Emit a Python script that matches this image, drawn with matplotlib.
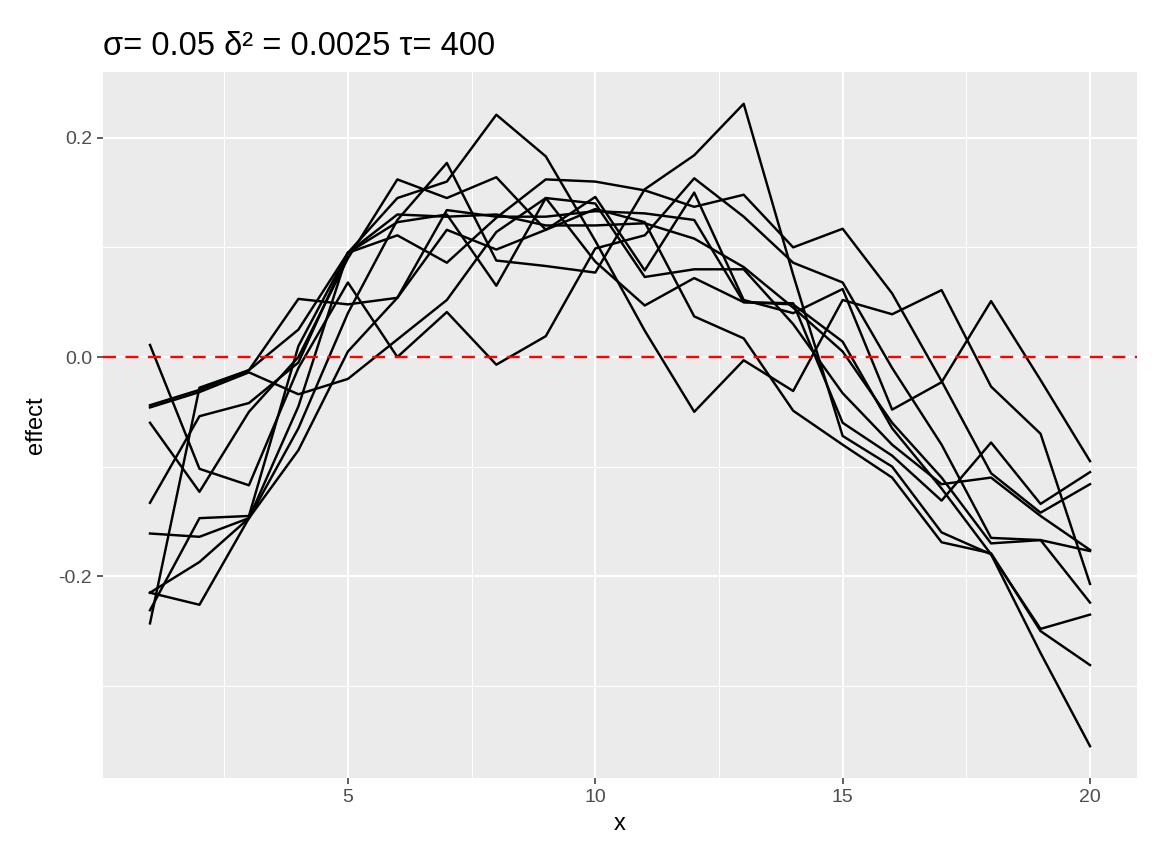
import numpy as np
import matplotlib
matplotlib.use("Agg")
import matplotlib.pyplot as plt

plt.rcParams['font.family'] = ['Liberation Sans', 'DejaVu Sans']

x = np.arange(1, 21)

low_line = [0.011, -0.102, -0.117, -0.010, 0.068, 0.000, 0.041, -0.007, 0.019, 0.099,
            0.111, 0.163, 0.128, 0.086, 0.068, -0.010, -0.080, -0.165, -0.167, -0.177]
peak_line = [-0.215, -0.187, -0.147, -0.065, 0.040, 0.125, 0.177, 0.088, 0.083, 0.077,
             0.153, 0.184, 0.231, 0.075, -0.072, -0.100, -0.160, -0.180, -0.270, -0.355]
early_peak = [-0.133, -0.054, -0.042, -0.005, 0.095, 0.145, 0.160, 0.221, 0.183, 0.106,
              0.024, -0.050, -0.003, -0.031, 0.052, 0.039, 0.061, -0.027, -0.070, -0.207]
line_b = [-0.161, -0.164, -0.147, -0.045, 0.095, 0.111, 0.086, 0.127, 0.162, 0.160,
          0.152, 0.137, 0.148, 0.100, 0.117, 0.058, -0.022, -0.106, -0.142, -0.116]
flat_line = [-0.044, -0.030, -0.012, 0.053, 0.048, 0.054, 0.134, 0.128, 0.128, 0.133,
             0.131, 0.125, 0.050, 0.048, 0.014, -0.065, -0.120, -0.180, -0.248, -0.235]
line_c = [-0.060, -0.123, -0.050, 0.000, 0.090, 0.162, 0.145, 0.164, 0.116, 0.146,
          0.079, 0.150, 0.052, 0.040, 0.062, -0.048, -0.023, 0.051, -0.021, -0.095]
line_e = [-0.046, -0.032, -0.014, -0.034, -0.020, 0.016, 0.052, 0.114, 0.145, 0.140,
          0.073, 0.080, 0.080, 0.030, -0.033, -0.080, -0.116, -0.110, -0.145, -0.176]
jump_line = [-0.243, -0.028, -0.012, 0.025, 0.095, 0.123, 0.130, 0.065, 0.145, 0.087,
             0.047, 0.072, 0.050, 0.049, -0.060, -0.090, -0.131, -0.078, -0.134, -0.105]
line_f = [-0.215, -0.226, -0.147, -0.085, 0.005, 0.054, 0.116, 0.098, 0.116, 0.135,
          0.123, 0.037, 0.017, -0.049, -0.080, -0.110, -0.169, -0.179, -0.250, -0.281]
line_g = [-0.231, -0.147, -0.145, 0.010, 0.095, 0.130, 0.128, 0.130, 0.120, 0.120,
          0.122, 0.108, 0.082, 0.045, 0.005, -0.060, -0.110, -0.170, -0.167, -0.224]

curves = [low_line, peak_line, early_peak, line_b, flat_line,
          line_c, line_e, jump_line, line_f, line_g]

x_ticks = [5, 10, 15, 20]
y_ticks = [-0.2, 0.0, 0.2]
title = "σ= 0.05 δ² = 0.0025 τ= 400"

fig = plt.figure(figsize=(11.52, 8.65), dpi=100)
ax = fig.add_axes([0.0894, 0.1006, 0.8976, 0.8162])
ax.set_facecolor('#EBEBEB')

for c in curves:
    ax.plot(x, c, color='black', lw=1.75, zorder=3)
ax.axhline(0, color='red', lw=1.7, ls=(0, (5.5, 4)), zorder=4)

ax.set_xlim(0.05, 20.95)
ax.set_ylim(-0.384, 0.260)
ax.set_xticks(x_ticks)
ax.set_xticklabels([str(t) for t in x_ticks])
ax.set_yticks(y_ticks)
ax.set_yticklabels(['-0.2', '0.0', '0.2'])
ax.set_xticks([2.5, 7.5, 12.5, 17.5], minor=True)
ax.set_yticks([-0.3, -0.1, 0.1], minor=True)
ax.grid(which='major', color='white', lw=1.5, zorder=1)
ax.grid(which='minor', color='white', lw=0.75, zorder=1)
ax.tick_params(which='major', length=4, width=1.1, color='#333333',
               labelcolor='#4D4D4D', labelsize=14, pad=4)
ax.tick_params(which='minor', length=0)
for s in ax.spines.values():
    s.set_visible(False)

ax.set_xlabel('x', fontsize=17, labelpad=5)
ax.set_ylabel('effect', fontsize=17, labelpad=8)
ax.set_title(title, loc='left', fontsize=23.5, pad=12)

fig.savefig('out.png', dpi=100)
